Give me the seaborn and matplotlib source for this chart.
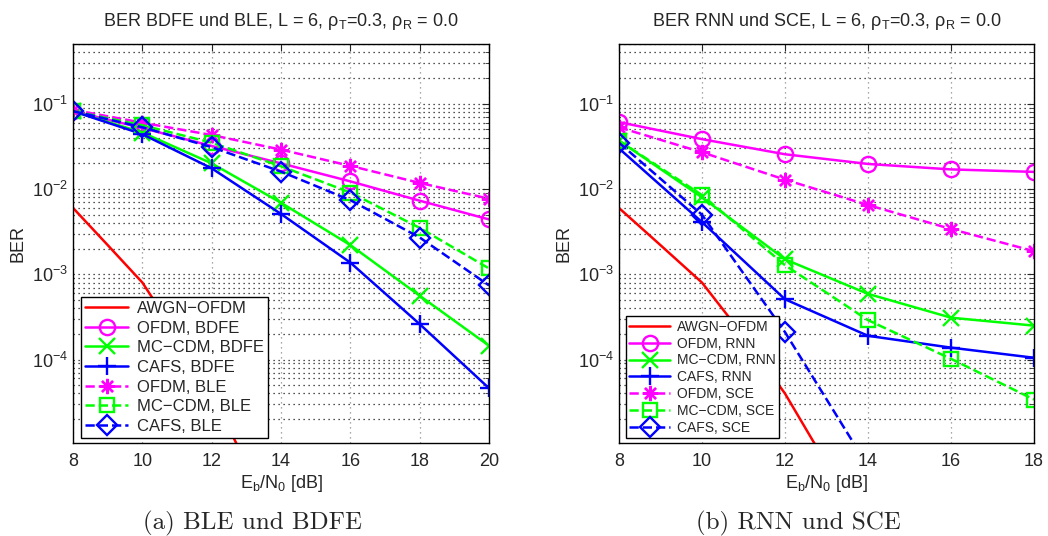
import numpy as np
import pandas as pd
import matplotlib
matplotlib.use('Agg')
import matplotlib.pyplot as plt
import seaborn as sns

# E_b/N_0 axis values
snr_left = [8, 10, 12, 14, 16, 18, 20]
snr_right = [8, 10, 12, 14, 16, 18]
snr_awgn = [8, 9, 10, 11, 12, 13]
snr_cafs_sce = [8, 10, 12, 14]

# reference curve (same in both panels)
ber_awgn = [6e-3, 2.2e-3, 8e-4, 1.9e-4, 4e-5, 6e-6]

# left panel: BDFE and BLE
ofdm_bdfe = [0.082, 0.052, 0.032, 0.020, 0.0123, 0.0073, 0.0044]
mccdm_bdfe = [0.082, 0.046, 0.020, 0.0069, 0.0022, 0.00056, 0.000145]
cafs_bdfe = [0.082, 0.044, 0.0175, 0.0051, 0.00137, 0.00026, 0.000046]
ofdm_ble = [0.085, 0.060, 0.043, 0.029, 0.0187, 0.0118, 0.0077]
mccdm_ble = [0.082, 0.056, 0.035, 0.0185, 0.0091, 0.0035, 0.00117]
cafs_ble = [0.082, 0.053, 0.031, 0.016, 0.0074, 0.0027, 0.00074]

# right panel: RNN and SCE
ofdm_rnn = [0.061, 0.0385, 0.0256, 0.0197, 0.017, 0.0159]
mccdm_rnn = [0.037, 0.0080, 0.0015, 0.00059, 0.00031, 0.00025]
cafs_rnn = [0.030, 0.0041, 0.00051, 0.00019, 0.000138, 0.000105]
ofdm_sce = [0.053, 0.027, 0.0129, 0.0065, 0.0034, 0.00187]
mccdm_sce = [0.037, 0.0085, 0.00128, 0.00029, 0.000102, 0.000034]
cafs_sce = [0.035, 0.0050, 0.00021, 5.6e-6]

sns.set_style('white')
plt.rcParams['font.family'] = ['Liberation Sans', 'DejaVu Sans']
plt.rcParams['mathtext.fontset'] = 'custom'
plt.rcParams['mathtext.rm'] = 'Liberation Sans'
plt.rcParams['mathtext.it'] = 'Liberation Sans:italic'
plt.rcParams['mathtext.default'] = 'regular'

RED, MAG, GRN, BLU = '#ff0000', '#ff00ff', '#00ff00', '#0000ff'
AST = (8, 2, 0)  # matlab style asterisk

fig = plt.figure(figsize=(10.48, 5.36), dpi=100)
ax1 = fig.add_axes([0.0697, 0.1735, 0.397, 0.744])
ax2 = fig.add_axes([0.5906, 0.1735, 0.396, 0.744])


def curve(ax, x, y, color, ls, marker, label, filled=False, ms=11):
    sns.lineplot(x=x, y=y, ax=ax, color=color, linestyle=ls, linewidth=1.8,
                 marker=marker, markersize=ms,
                 markerfacecolor=color if filled else 'none',
                 markeredgecolor=color, markeredgewidth=1.7,
                 label=label, legend=False, sort=False)


def style_axes(ax, xmax, title):
    ax.set_yscale('log')
    ax.set_xlim(8, xmax)
    ax.set_ylim(1.05e-5, 0.5)
    ax.set_xticks(np.arange(8, xmax + 1, 2))
    ax.set_yticks([1e-4, 1e-3, 1e-2, 1e-1])
    ax.grid(True, which='major', axis='x', linestyle=(0, (1, 3)), color='0.55', linewidth=0.9)
    ax.grid(True, which='both', axis='y', linestyle=(0, (1, 3)), color='0.1', linewidth=0.9)
    ax.tick_params(direction='in', top=True, right=True, labelsize=13,
                   length=5, width=0.8, which='major')
    ax.tick_params(axis='x', pad=7)
    ax.tick_params(direction='in', top=True, right=True, length=3,
                   width=0.6, which='minor')
    for s in ax.spines.values():
        s.set_color('black')
        s.set_linewidth(1.0)
    ax.set_xlabel(r'$E_b/N_0$ [dB]', fontsize=13, labelpad=2)
    ax.set_ylabel('BER', fontsize=13, labelpad=4)
    ax.set_title(title, fontsize=13, pad=13)


# left panel
curve(ax1, snr_awgn, ber_awgn, RED, '-', None, 'AWGN\u2212OFDM')
curve(ax1, snr_left, ofdm_bdfe, MAG, '-', 'o', 'OFDM, BDFE')
curve(ax1, snr_left, mccdm_bdfe, GRN, '-', 'x', 'MC\u2212CDM, BDFE')
curve(ax1, snr_left, cafs_bdfe, BLU, '-', '+', 'CAFS, BDFE', filled=True, ms=13)
curve(ax1, snr_left, ofdm_ble, MAG, '--', AST, 'OFDM, BLE', filled=True)
curve(ax1, snr_left, mccdm_ble, GRN, '--', 's', 'MC\u2212CDM, BLE', ms=10)
curve(ax1, snr_left, cafs_ble, BLU, '--', 'D', 'CAFS, BLE', ms=10)
style_axes(ax1, 20, r'BER BDFE und BLE, L = 6, $\rho_T$=0.3, $\rho_R$ = 0.0')
ax1.legend(loc='lower left', bbox_to_anchor=(0.019, 0.0125), borderaxespad=0,
           fontsize=12, labelspacing=0.28, handlelength=2.6, handletextpad=0.5,
           borderpad=0.25, fancybox=False, edgecolor='black', framealpha=1)

# right panel
curve(ax2, snr_awgn, ber_awgn, RED, '-', None, 'AWGN\u2212OFDM')
curve(ax2, snr_right, ofdm_rnn, MAG, '-', 'o', 'OFDM, RNN')
curve(ax2, snr_right, mccdm_rnn, GRN, '-', 'x', 'MC\u2212CDM, RNN')
curve(ax2, snr_right, cafs_rnn, BLU, '-', '+', 'CAFS, RNN', filled=True, ms=13)
curve(ax2, snr_right, ofdm_sce, MAG, '--', AST, 'OFDM, SCE', filled=True)
curve(ax2, snr_right, mccdm_sce, GRN, '--', 's', 'MC\u2212CDM, SCE', ms=10)
curve(ax2, snr_cafs_sce, cafs_sce, BLU, '--', 'D', 'CAFS, SCE', ms=10)
style_axes(ax2, 18, r'BER RNN und SCE, L = 6, $\rho_T$=0.3, $\rho_R$ = 0.0')
ax2.legend(loc='lower left', bbox_to_anchor=(0.017, 0.0125), borderaxespad=0,
           fontsize=10, labelspacing=0.2, handlelength=2.9, handletextpad=0.5,
           borderpad=0.25, fancybox=False, edgecolor='black', framealpha=1)

# sub captions
fig.text(0.241, 0.012, '(a) BLE und BDFE', fontsize=18, family='cmr10', ha='center')
fig.text(0.762, 0.012, '(b) RNN und SCE', fontsize=18, family='cmr10', ha='center')

fig.savefig('out.png', dpi=100)
